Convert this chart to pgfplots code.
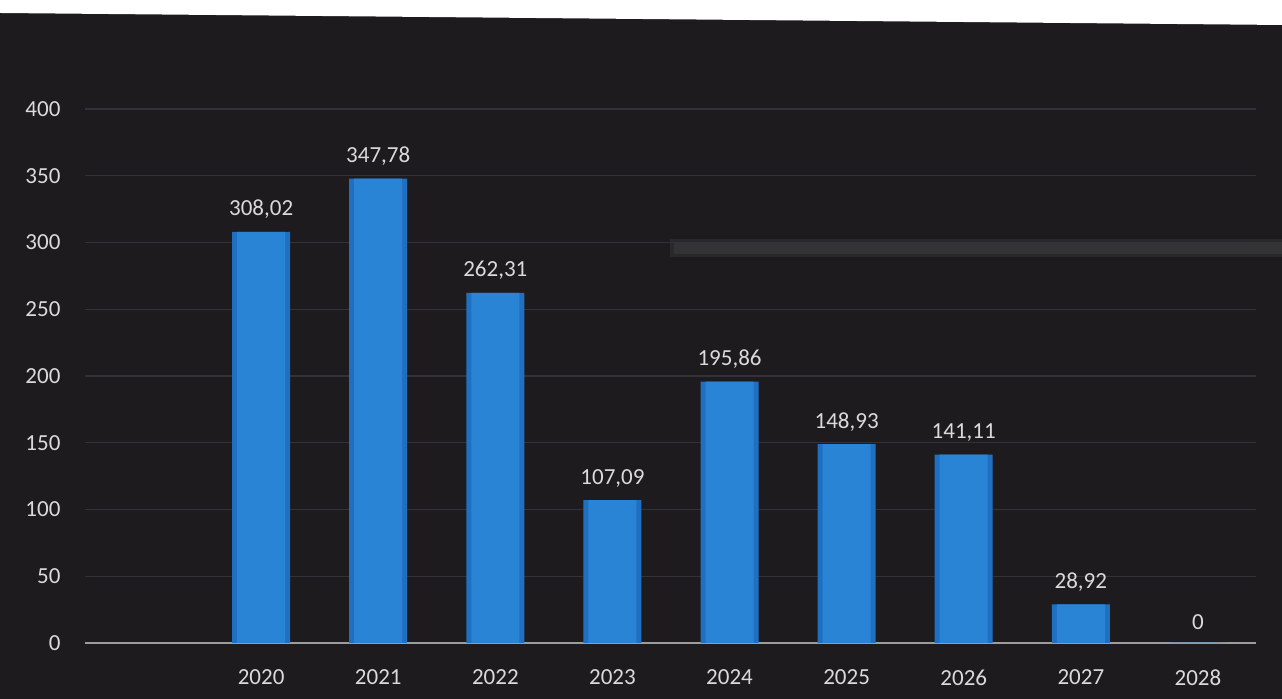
\documentclass[border=0pt]{standalone}
\usepackage{fontspec}
\setmainfont{Carlito}
\usepackage{pgfplots}
\usepackage{pgfplotstable}
\pgfplotsset{compat=1.18}

\definecolor{bg}{HTML}{1D1B1E}
\definecolor{gridc}{HTML}{343238}
\definecolor{txt}{HTML}{DADADA}
\definecolor{barmid}{HTML}{2A84D6}
\definecolor{baredge}{HTML}{2070C2}
\definecolor{axisc}{HTML}{9C9C9C}

% values per year, labels with decimal comma as on the slide
\pgfplotstableread{
x y lab
1 308.02 308,02
2 347.78 347,78
3 262.31 262,31
4 107.09 107,09
5 195.86 195,86
6 148.93 148,93
7 141.11 141,11
8 28.92 28,92
9 0 0
}\datatable

\begin{document}
\begin{tikzpicture}
\fill[bg] (0,0) rectangle (641pt,349.5pt);
\useasboundingbox (0,0) rectangle (641pt,349.5pt);
% white edge of the photo at the top
\fill[white] (0,349.5pt) -- (0,343pt) -- (641pt,337pt) -- (641pt,349.5pt) -- cycle;
% faint reflection streak
\fill[gray!60!bg, opacity=0.22] (335pt,221pt) rectangle (641pt,230pt);
\fill[gray!60!bg, opacity=0.22] (337pt,222.5pt) rectangle (641pt,228.5pt);
\begin{axis}[
  at={(42.75pt,28pt)}, anchor=south west,
  scale only axis, width=585.5pt, height=267pt,
  ybar, bar width=29pt,
  xmin=-0.5, xmax=9.5, ymin=0, ymax=400,
  xtick={1,...,9},
  xticklabels={2020,2021,2022,2023,2024,2025,2026,2027,2028},
  ytick={0,50,...,400},
  ymajorgrids, grid style={gridc, line width=0.6pt},
  axis x line*=bottom, axis y line*=left,
  x axis line style={axisc, line width=1.2pt, -},
  y axis line style={draw=none},
  major tick length=0pt,
  ticklabel style={font=\fontsize{11.5}{13}\selectfont, text=txt},
  xticklabel style={yshift=-10pt},
  yticklabel style={xshift=-9pt},
  /pgf/number format/assume math mode=true,
  clip=false,
]
% darker bar body, then lighter core for the rounded look
\addplot[draw=none, fill=baredge, bar shift=0pt]
  table[x=x, y=y] {\datatable};
\addplot[draw=none, fill=barmid, bar shift=0pt, bar width=24pt,
  nodes near coords, point meta=explicit symbolic,
  nodes near coords style={font=\fontsize{11.5}{13}\selectfont, text=txt, yshift=3pt}]
  table[x=x, y=y, meta=lab] {\datatable};
\end{axis}
\end{tikzpicture}
\end{document}
